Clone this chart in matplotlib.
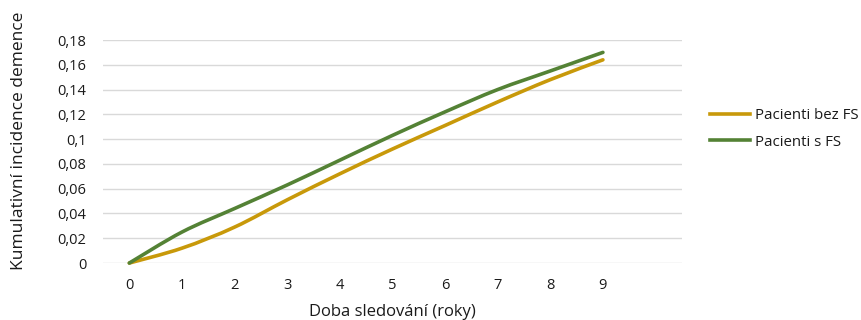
import matplotlib
matplotlib.use("Agg")
import matplotlib.pyplot as plt
from matplotlib.path import Path
from matplotlib.patches import PathPatch
from matplotlib.lines import Line2D
import numpy as np

plt.rcParams['font.family'] = ['Open Sans', 'DejaVu Sans']

years = [0, 1, 2, 3, 4, 5, 6, 7, 8, 9]
bez_fs = [0, 0.012, 0.029, 0.051, 0.072, 0.092, 0.111, 0.130, 0.148, 0.164]
s_fs = [0, 0.025, 0.044, 0.063, 0.083, 0.103, 0.122, 0.140, 0.155, 0.170]
y_ticks = [0, 0.02, 0.04, 0.06, 0.08, 0.1, 0.12, 0.14, 0.16, 0.18]
y_labels = ['0', '0,02', '0,04', '0,06', '0,08', '0,1', '0,12', '0,14', '0,16', '0,18']

YELLOW = '#C8990A'
GREEN = '#548235'
GRID = '#D9D9D9'
TEXT = '#1a1a1a'


def smooth_path(xs, ys, t=1 / 6):
    # Excel-like smoothed line as cubic bezier through the points
    pts = np.column_stack([xs, ys]).astype(float)
    verts = [pts[0]]
    codes = [Path.MOVETO]
    n = len(pts)
    for i in range(n - 1):
        p0 = pts[i - 1] if i > 0 else pts[i]
        p1 = pts[i]
        p2 = pts[i + 1]
        p3 = pts[i + 2] if i + 2 < n else pts[i + 1]
        c1 = p1 + (p2 - p0) * t
        c2 = p2 - (p3 - p1) * t
        verts += [c1, c2, p2]
        codes += [Path.CURVE4] * 3
    return Path(verts, codes)


fig = plt.figure(figsize=(8.62, 3.2), dpi=100)
ax = fig.add_axes([0.1195, 0.178, 0.6715, 0.697])

for ys, col in [(bez_fs, YELLOW), (s_fs, GREEN)]:
    patch = PathPatch(smooth_path(years, ys), facecolor='none', edgecolor=col,
                      linewidth=2.6, capstyle='round', clip_on=False, zorder=3)
    ax.add_patch(patch)

ax.set_xlim(-0.5, 10.5)
ax.set_ylim(0, 0.18)
ax.set_xticks(years)
ax.set_xticklabels([str(y) for y in years])
ax.set_yticks(y_ticks)
ax.set_yticklabels(y_labels)
ax.tick_params(axis='both', length=0, labelsize=10.5, colors=TEXT)
ax.tick_params(axis='y', pad=12)
ax.tick_params(axis='x', pad=11)
ax.grid(axis='y', color=GRID, linewidth=1.0, zorder=0)
ax.set_axisbelow(True)
for s in ax.spines.values():
    s.set_visible(False)

ax.set_xlabel('Doba sledování (roky)', fontsize=12, color=TEXT)
ax.xaxis.set_label_coords(0.5, -0.185)
ax.set_ylabel('Kumulativní incidence demence', fontsize=12.5, color=TEXT)
ax.yaxis.set_label_coords(-0.132, 0.55)

handles = [Line2D([], [], color=YELLOW, linewidth=2.6),
           Line2D([], [], color=GREEN, linewidth=2.6)]
fig.legend(handles, ['Pacienti bez FS', 'Pacienti s FS'], loc='center left',
           bbox_to_anchor=(0.808, 0.597), frameon=False, fontsize=10.8,
           handlelength=2.65, handletextpad=0.33, labelspacing=0.75, labelcolor=TEXT)

fig.savefig('out.png', dpi=100)
